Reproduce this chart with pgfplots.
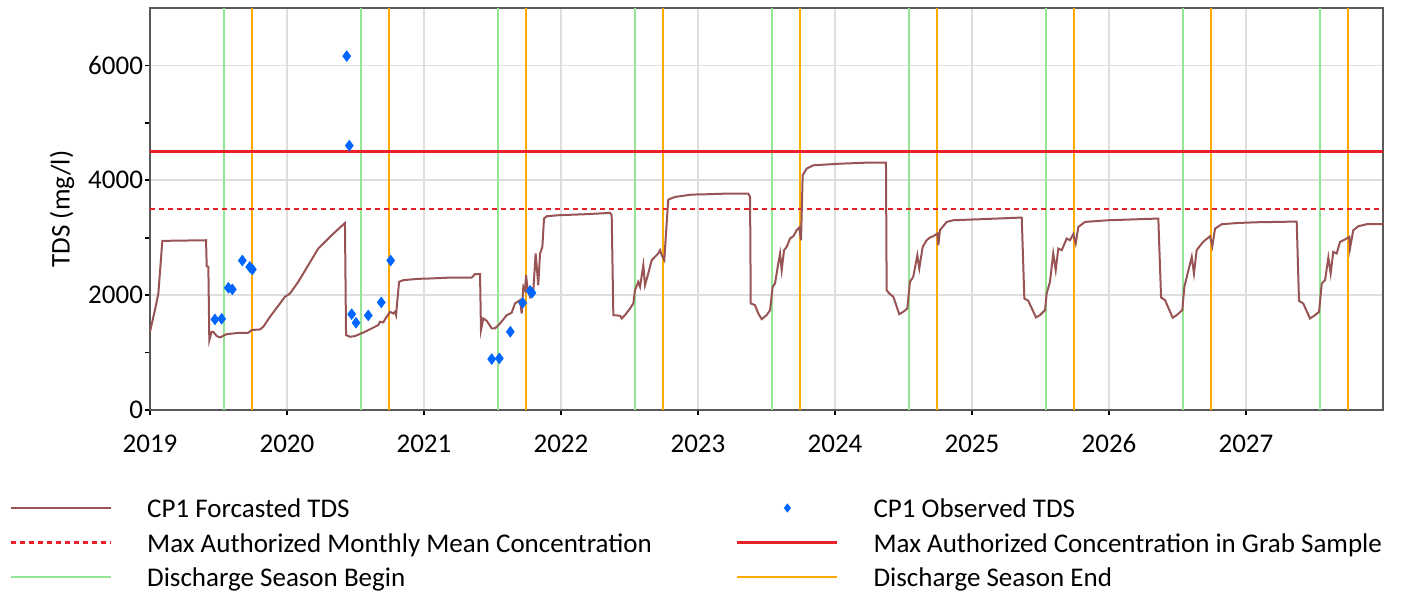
\documentclass[border=0pt]{standalone}
\usepackage{pgfplots}
\pgfplotsset{compat=1.18}
\usepackage{fontspec}
\setmainfont{Carlito}
\definecolor{fc}{RGB}{152,84,84}
\definecolor{obs}{RGB}{0,102,255}
\definecolor{redl}{RGB}{232,32,40}
\definecolor{greenl}{RGB}{150,228,150}
\definecolor{orangel}{RGB}{255,170,0}
\definecolor{gridc}{RGB}{222,222,222}
\pgfplotsset{markleg/.style={legend image code/.code={\draw[##1, only marks, mark repeat=2, mark phase=2] plot coordinates {(0pt,4.75pt) (25pt,4.75pt) (50pt,4.75pt)}; \path (0pt,4.75pt) (67.5pt,4.75pt);}}}
\begin{document}
\begin{tikzpicture}[font=\fontsize{13.5}{16}\selectfont]
\path (-75pt,-92pt) rectangle (629pt,205pt);
\begin{axis}[
  at={(0,0)}, anchor=south west,
  scale only axis, width=616.5pt, height=201pt,
  xmin=2019, xmax=2028, ymin=0, ymax=7000,
  xtick={2019,2020,...,2027},
  ytick={0,2000,4000,6000},
  minor ytick={1000,3000,5000},
  /pgf/number format/1000 sep={},
  /pgf/number format/assume math mode=true,
  xtick pos=lower, ytick pos=left,
  tick align=outside,
  major tick length=2.5pt, minor tick length=2.5pt,
  tick style={black, line width=0.8pt},
  xticklabel style={text height=8.6pt, text depth=0pt, yshift=-6.5pt},
  yticklabel style={xshift=2.5pt},
  xmajorgrids, ymajorgrids,
  major grid style={gridc, line width=0.8pt},
  x axis line style={black, line width=0.9pt},
  y axis line style={black!65, line width=0.8pt},
  ylabel={TDS (mg/l)},
  every axis y label/.style={at={(axis description cs:-0.0714,0.5)}, rotate=90, anchor=center},
  legend columns=2,
  legend cell align=left,
  legend style={at={(0,0)}, anchor=north west, xshift=-70pt, yshift=-43.75pt,
    draw=none, fill=none, inner sep=0pt, outer sep=0pt, column sep=0pt, row sep=3.75pt,
    nodes={inner sep=0pt, text height=10pt, text depth=3.5pt, anchor=base west}},
  legend image code/.code={\draw[#1] (0pt,4.75pt) -- (50pt,4.75pt); \path (67.5pt,4.75pt);},
]
% discharge season begin / end
\addplot[ycomb, greenl, line width=1pt, mark=none, forget plot] coordinates {
 (2019.537,7000) (2020.537,7000) (2021.537,7000) (2022.537,7000) (2023.537,7000)
 (2024.537,7000) (2025.537,7000) (2026.537,7000) (2027.537,7000)};
\addplot[ycomb, orangel, line width=1pt, mark=none, forget plot] coordinates {
 (2019.748,7000) (2020.748,7000) (2021.748,7000) (2022.748,7000) (2023.748,7000)
 (2024.748,7000) (2025.748,7000) (2026.748,7000) (2027.748,7000)};
% limits
\addplot[redl, line width=1.1pt, dash pattern=on 2.5pt off 2pt, forget plot] coordinates {(2019,3500) (2028,3500)};
\addplot[redl, line width=1.2pt, forget plot] coordinates {(2019,4500) (2028,4500)};
% forecast
\addplot[fc, line width=1pt, forget plot] coordinates {
(2019.000,1362) (2019.036,1739) (2019.061,2029) (2019.090,2945) (2019.409,2956)
(2019.414,2504) (2019.426,2493) (2019.433,1217) (2019.450,1362) (2019.462,1362)
(2019.487,1287) (2019.511,1264) (2019.560,1321) (2019.657,1345) (2019.718,1345)
(2019.742,1392) (2019.803,1403) (2019.827,1449) (2019.876,1623) (2019.985,1971)
(2020.022,2029) (2020.082,2231) (2020.228,2811) (2020.326,3043) (2020.423,3257)
(2020.431,1305) (2020.460,1275) (2020.496,1287) (2020.569,1362) (2020.666,1478)
(2020.679,1536) (2020.703,1525) (2020.715,1577) (2020.752,1710) (2020.776,1681)
(2020.788,1710) (2020.796,1652) (2020.818,2231) (2020.849,2261) (2020.958,2284)
(2021.044,2290) (2021.202,2307) (2021.348,2307) (2021.372,2365) (2021.409,2365)
(2021.416,1392) (2021.433,1594) (2021.458,1553) (2021.494,1421) (2021.518,1421)
(2021.555,1507) (2021.604,1652) (2021.640,1693) (2021.664,1855) (2021.701,1913)
(2021.713,1681) (2021.725,2145) (2021.737,2087) (2021.745,2347) (2021.757,2087)
(2021.774,1971) (2021.798,2087) (2021.815,2725) (2021.834,2174) (2021.847,2725)
(2021.864,2840) (2021.876,3334) (2021.896,3374) (2021.980,3391) (2022.175,3409)
(2022.358,3432) (2022.370,3391) (2022.382,1652) (2022.431,1641) (2022.443,1594)
(2022.467,1652) (2022.504,1768) (2022.528,1855) (2022.540,2087) (2022.564,2231)
(2022.577,2145) (2022.601,2522) (2022.613,2174) (2022.637,2377) (2022.662,2609)
(2022.686,2667) (2022.710,2725) (2022.723,2783) (2022.739,2678) (2022.754,2609)
(2022.764,2986) (2022.783,3664) (2022.832,3710) (2022.954,3751) (2023.051,3756)
(2023.209,3768) (2023.367,3768) (2023.380,3710) (2023.385,1855) (2023.416,1826)
(2023.440,1681) (2023.465,1582) (2023.501,1652) (2023.526,1739) (2023.545,2145)
(2023.562,2203) (2023.586,2551) (2023.599,2725) (2023.611,2435) (2023.628,2783)
(2023.647,2840) (2023.672,2986) (2023.696,3026) (2023.720,3131) (2023.739,3177)
(2023.752,2956) (2023.764,4087) (2023.793,4203) (2023.842,4261) (2024.036,4289)
(2024.231,4307) (2024.372,4307) (2024.377,2087) (2024.396,2029) (2024.426,1971)
(2024.469,1669) (2024.499,1710) (2024.528,1768) (2024.547,2231) (2024.571,2319)
(2024.601,2695) (2024.615,2463) (2024.640,2840) (2024.669,2956) (2024.693,3003)
(2024.717,3026) (2024.747,3072) (2024.754,2870) (2024.766,3131) (2024.815,3275)
(2024.863,3304) (2025.058,3322) (2025.363,3351) (2025.382,1942) (2025.411,1901)
(2025.467,1612) (2025.496,1652) (2025.533,1739) (2025.545,2029) (2025.569,2231)
(2025.593,2725) (2025.611,2435) (2025.630,2811) (2025.655,2783) (2025.691,2986)
(2025.715,2956) (2025.739,3061) (2025.757,2899) (2025.776,3188) (2025.825,3275)
(2025.995,3304) (2026.360,3334) (2026.380,1960) (2026.409,1913) (2026.465,1606)
(2026.494,1652) (2026.535,1739) (2026.550,2145) (2026.604,2667) (2026.620,2377)
(2026.640,2783) (2026.677,2899) (2026.701,2956) (2026.737,3026) (2026.754,2852)
(2026.774,3159) (2026.823,3235) (2026.944,3257) (2027.078,3269) (2027.370,3281)
(2027.387,1901) (2027.418,1855) (2027.467,1594) (2027.504,1652) (2027.533,1710)
(2027.553,2203) (2027.577,2261) (2027.601,2655) (2027.618,2377) (2027.637,2754)
(2027.662,2725) (2027.686,2927) (2027.735,2986) (2027.754,3015) (2027.759,2811)
(2027.783,3131) (2027.820,3200) (2027.881,3235) (2028.000,3235)};
% observed
\addplot[only marks, mark=diamond*, mark size=2.6pt, obs, forget plot] coordinates {
(2019.474,1577) (2019.523,1588) (2019.572,2127) (2019.601,2100) (2019.674,2603)
(2019.728,2492) (2019.747,2447) (2020.436,6162) (2020.455,4604) (2020.472,1669)
(2020.504,1519) (2020.593,1647) (2020.688,1873) (2020.757,2603) (2021.494,887)
(2021.550,899) (2021.630,1362) (2021.720,1866) (2021.774,2075) (2021.788,2040)};
% legend
\addlegendimage{fc, line width=1pt}
\addlegendentry{\makebox[294.5pt][l]{CP1 Forcasted TDS}}
\addlegendimage{obs, mark=diamond*, mark size=2pt, markleg}
\addlegendentry{CP1 Observed TDS}
\addlegendimage{redl, line width=1.1pt, dash pattern=on 2.5pt off 2pt}
\addlegendentry{\makebox[294.5pt][l]{Max Authorized Monthly Mean Concentration}}
\addlegendimage{redl, line width=1.2pt}
\addlegendentry{Max Authorized Concentration in Grab Sample}
\addlegendimage{greenl, line width=1pt}
\addlegendentry{\makebox[294.5pt][l]{Discharge Season Begin}}
\addlegendimage{orangel, line width=1pt}
\addlegendentry{Discharge Season End}
\end{axis}
\end{tikzpicture}
\end{document}
